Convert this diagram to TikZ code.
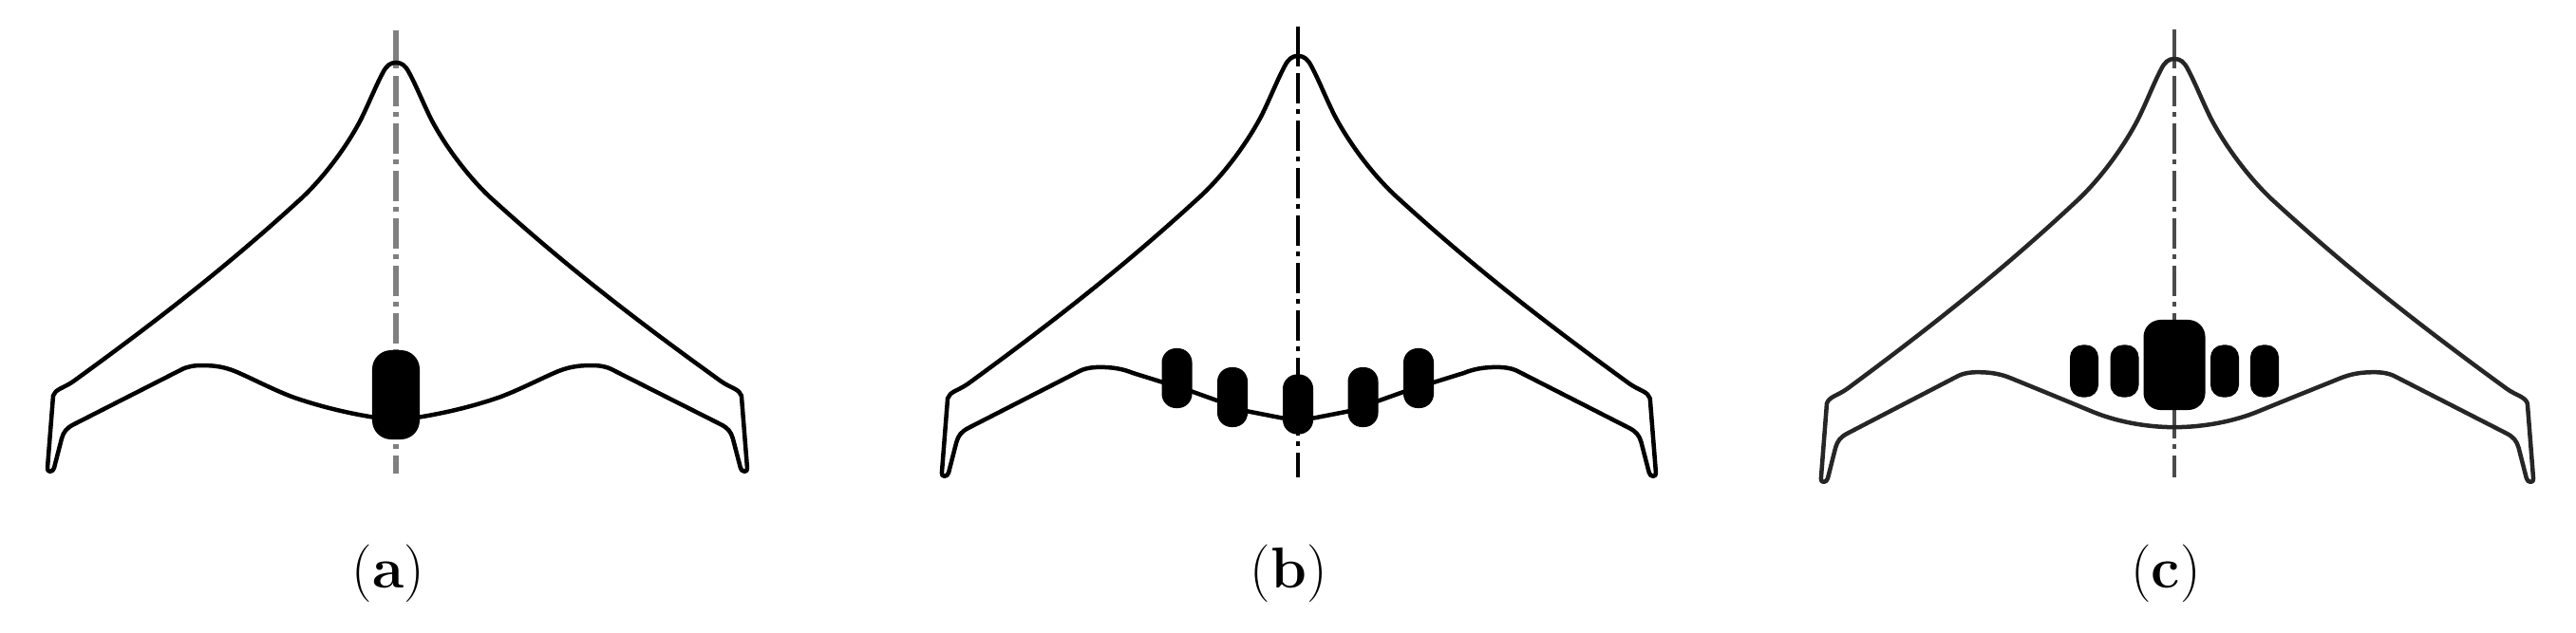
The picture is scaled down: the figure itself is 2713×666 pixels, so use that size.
\documentclass[tikz,border=0pt]{standalone}
\usepackage{amsmath}
\usepackage{xcolor}
\usetikzlibrary{arrows.meta, positioning, shapes.geometric}

\tikzset{
    wingline/.style={line width=0.045cm, line join=round, line cap=round},
    axisline/.style={line width=0.035cm},
    axisdash/.style={dash pattern=on 0.32cm off 0.06cm on 0.05cm off 0.07cm},
    pod/.style={fill=black, rectangle, rounded corners=0.15cm, inner sep=0pt,
        minimum width=0.32cm, minimum height=0.63cm},
    caption/.style={font=\LARGE, inner sep=0pt}
}

% half a wing, leading edge out and trailing edge back; #1 is the inner trailing edge
\newcommand{\wingside}[1]{
    (0,66) .. controls (6,66) and (10,69) .. (14,77)
    .. controls (21,90) and (29,110) .. (37,126)
    .. controls (52,155) and (78,190) .. (104,213)
    .. controls (184,286) and (260,344) .. (340,402)
    .. controls (350,409) and (359,410) .. (361,417)
    -- (367,493)
    .. controls (368,498) and (361,498) .. (360,493)
    -- (352,462)
    .. controls (350,455) and (347,451) .. (339,447)
    -- (227,390)
    .. controls (220,386) and (212,385) .. (204,385)
    .. controls (190,385) and (180,387) .. (170,391)
    #1
}

\begin{document}
\begin{tikzpicture}[x=0.01cm, y=-0.01cm]
    \useasboundingbox (0,0) rectangle (2713,666);

    % Single central engine
    \begin{scope}[shift={(417,0)}]
        \draw[axisline, gray, line width=0.06cm] (0,32) -- (0,72);
        \draw[axisline, axisdash, gray, line width=0.06cm] (0,80) -- (0,499);
        \foreach \side in {1.008,-1} {
            \draw[wingline, xscale=\side] \wingside{
                .. controls (155,397) and (125,413) .. (104,420)
                .. controls (85,426.3) and (50,437) .. (0,443)};
        }
        \node[pod, minimum width=0.50cm, minimum height=0.94cm, rounded corners=0.2cm] (podA) at (0,416) {};
    \end{scope}

    % Five engines on the trailing edge
    \begin{scope}[shift={(1367,0)}]
        \draw[axisline, black] (0,28) -- (0,70);
        \draw[axisline, axisdash, black] (0,77) -- (0,503);
        \foreach \side in {1.027,-1.022} {
            \draw[wingline, shift={(0,-8.9)}, xscale=\side, yscale=1.028] \wingside{
                -- (112,409) -- (53,430) -- (17,437) -- (0,439)};
        }
        \foreach \dx/\mid/\name in {-127.5/398.5/podB1, -69/418.5/podB2, 0/426/podB3, 68.5/418.5/podB4, 127/398.5/podB5} {
            \node[pod] (\name) at (\dx,\mid) {};
        }
    \end{scope}

    % Engines above the wing
    \begin{scope}[shift={(2290,0)}]
        \draw[axisline, black!70] (0,31) -- (0,72);
        \draw[axisline, axisdash, black!70] (0,80) -- (0,503);
        \foreach \side in {1.03,-1.014} {
            \draw[wingline, black!85, shift={(0,-6.3)}, xscale=\side, yscale=1.035] \wingside{
                .. controls (140,403) and (115,413) .. (88,424)
                .. controls (62,435) and (30,441) .. (0,441)};
        }
        \node[pod, minimum width=0.65cm, minimum height=0.95cm, rounded corners=0.18cm] (podC) at (0,384.5) {};
        \foreach \dx/\name in {-95/podC1, -52.5/podC2, 53/podC3, 95/podC4} {
            \node[pod, minimum width=0.30cm, minimum height=0.55cm, rounded corners=0.13cm] (\name) at (\dx,391) {};
        }
    \end{scope}

    \node[caption] (capA) at (409,604) {(\textbf{a})};
    \node[caption] (capB) at (1357,604) {(\textbf{b})};
    \node[caption] (capC) at (2281,604) {(\textbf{c})};
\end{tikzpicture}
\end{document}
